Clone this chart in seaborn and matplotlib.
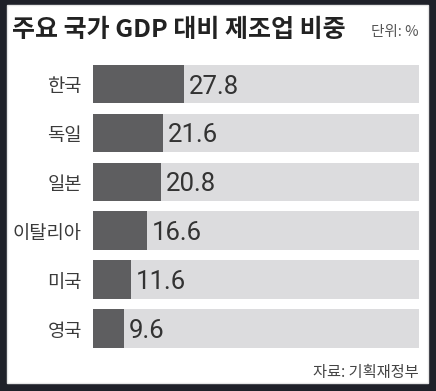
import matplotlib
matplotlib.use("Agg")
import matplotlib.pyplot as plt
import seaborn as sns
import pandas as pd
from matplotlib.patches import Rectangle

sns.set_theme(style="white")
plt.rcParams['font.family'] = ['Noto Sans CJK KR', 'DejaVu Sans']

countries = ["한국", "독일", "일본", "이탈리아", "미국", "영국"]
values = [27.8, 21.6, 20.8, 16.6, 11.6, 9.6]
full_scale = [100] * len(countries)
title = "주요 국가 GDP 대비 제조업 비중"
unit_text = "단위: %"
source_text = "자료: 기획재정부"

df = pd.DataFrame({"country": countries, "value": values, "full": full_scale})

W, H = 436, 391
fig = plt.figure(figsize=(W / 100, H / 100), dpi=100, facecolor="#1f2129")
fig.patches.append(Rectangle((7 / W, 1 - 383 / H), 421 / W, 378 / H,
                             transform=fig.transFigure, facecolor="white",
                             edgecolor="#e6e6e6", linewidth=1, zorder=-5))

ax = fig.add_axes([93 / W, 1 - 353 / H, 326 / W, 293.3 / H])
ax.set_facecolor("none")
ax.set_zorder(2)
sns.barplot(data=df, y="country", x="full", color="#dcdcde", width=0.79,
            ax=ax, orient="h", saturation=1, linewidth=0, edgecolor="none")
sns.barplot(data=df, y="country", x="value", color="#5e5e60", width=0.79,
            ax=ax, orient="h", saturation=1, linewidth=0, edgecolor="none")
ax.set_xlim(0, 100)
ax.set_xlabel("")
ax.set_ylabel("")
ax.set_xticks([])
ax.tick_params(axis="y", length=0, pad=8, labelsize=13.5, labelcolor="#3a3a3a")
for s in ax.spines.values():
    s.set_visible(False)

num_font = ['Roboto', 'DejaVu Sans']
for i, v in enumerate(values):
    ax.text(v + 1.5, i + 0.05, f"{v}", va="center", ha="left",
            fontsize=18.5, color="#333333", family=num_font)

fig.text(12 / W, 1 - 30 / H, title, fontsize=18, fontweight="bold",
         color="#222222", va="center", ha="left")
fig.text(419 / W, 1 - 32 / H, unit_text, fontsize=10.5, color="#555555",
         va="center", ha="right")
fig.text(419 / W, 1 - 373 / H, source_text, fontsize=11, color="#444444",
         va="center", ha="right")

fig.savefig("out.png", dpi=100, facecolor=fig.get_facecolor())
